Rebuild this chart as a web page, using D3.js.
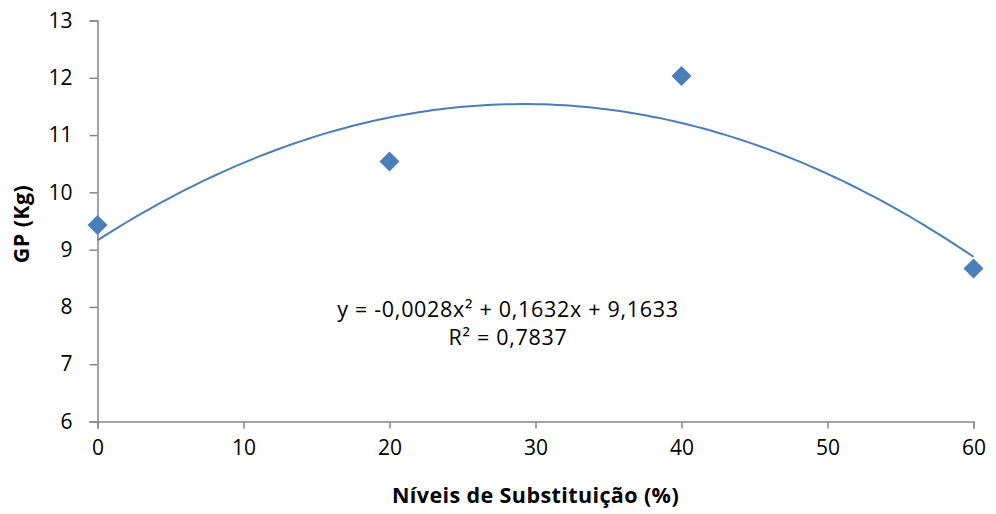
<!DOCTYPE html>
<html>
<head>
<meta charset="utf-8">
<script src="https://cdn.jsdelivr.net/npm/d3@7"></script>
<style>
  body { margin: 0; background: #fff; }
  svg text { font-family: "Open Sans", "Noto Sans", sans-serif; fill: #000; }
</style>
</head>
<body>
<svg id="chart" width="996" height="514"></svg>
<script>
// dados
var niveis = [0, 20, 40, 60];
var gp = [9.43, 10.54, 12.03, 8.67];
// coeficientes da linha de tendência polinomial (a, b, c)
var coef = [-0.0028, 0.1632, 9.1633];
var xTicks = [0, 10, 20, 30, 40, 50, 60];
var yTicks = [6, 7, 8, 9, 10, 11, 12, 13];

var svg = d3.select("#chart");
var margem = { esq: 97.5, dir: 973.5, topo: 20.5, base: 421.5 };

var x = d3.scaleLinear().domain([0, 60]).range([margem.esq, margem.dir]);
var y = d3.scaleLinear().domain([6, 13]).range([margem.base, margem.topo]);

var axisColor = "#868686";

// eixo y
var yAxis = svg.append("g")
    .attr("transform", "translate(" + margem.esq + ",0)")
    .call(d3.axisLeft(y).tickValues(yTicks).tickFormat(d3.format("d")).tickSize(8).tickPadding(17));
yAxis.selectAll("text").style("font-size", "21px");

// eixo x
var xAxis = svg.append("g")
    .attr("transform", "translate(0," + margem.base + ")")
    .call(d3.axisBottom(x).tickValues(xTicks).tickFormat(d3.format("d")).tickSize(7).tickPadding(12));
xAxis.selectAll("text").style("font-size", "21px");

svg.selectAll(".domain, .tick line").attr("stroke", axisColor).attr("stroke-width", 1.5);

// linha de tendência
var curva = d3.range(0, 60.01, 0.5).map(function (v) {
    return [v, coef[0] * v * v + coef[1] * v + coef[2]];
});
svg.append("path")
    .datum(curva)
    .attr("fill", "none")
    .attr("stroke", "#4a7ebb")
    .attr("stroke-width", 2)
    .attr("d", d3.line().x(function (d) { return x(d[0]); }).y(function (d) { return y(d[1]); }));

// pontos (losangos)
svg.append("g").selectAll("path")
    .data(niveis)
    .join("path")
    .attr("transform", function (d, i) { return "translate(" + x(d) + "," + y(gp[i]) + ")"; })
    .attr("d", "M0,-10L10,0L0,10L-10,0Z")
    .attr("fill", "#4a7ebb");

// equação
svg.append("text")
    .attr("x", 508).attr("y", 317)
    .attr("text-anchor", "middle")
    .style("font-size", "21.5px")
    .style("letter-spacing", "0.7px")
    .text("y = -0,0028x² + 0,1632x + 9,1633");
svg.append("text")
    .attr("x", 508).attr("y", 345)
    .attr("text-anchor", "middle")
    .style("font-size", "21.5px")
    .style("letter-spacing", "0.7px")
    .text("R² = 0,7837");

// títulos dos eixos
svg.append("text")
    .attr("x", (margem.esq + margem.dir) / 2).attr("y", 503)
    .attr("text-anchor", "middle")
    .style("font-size", "21.5px")
    .style("font-weight", "bold")
    .style("letter-spacing", "0.4px")
    .text("Níveis de Substituição (%)");
svg.append("text")
    .attr("transform", "translate(29,224) rotate(-90)")
    .attr("text-anchor", "middle")
    .style("font-size", "21.5px")
    .style("font-weight", "bold")
    .style("letter-spacing", "0.4px")
    .text("GP (Kg)");
</script>
</body>
</html>
